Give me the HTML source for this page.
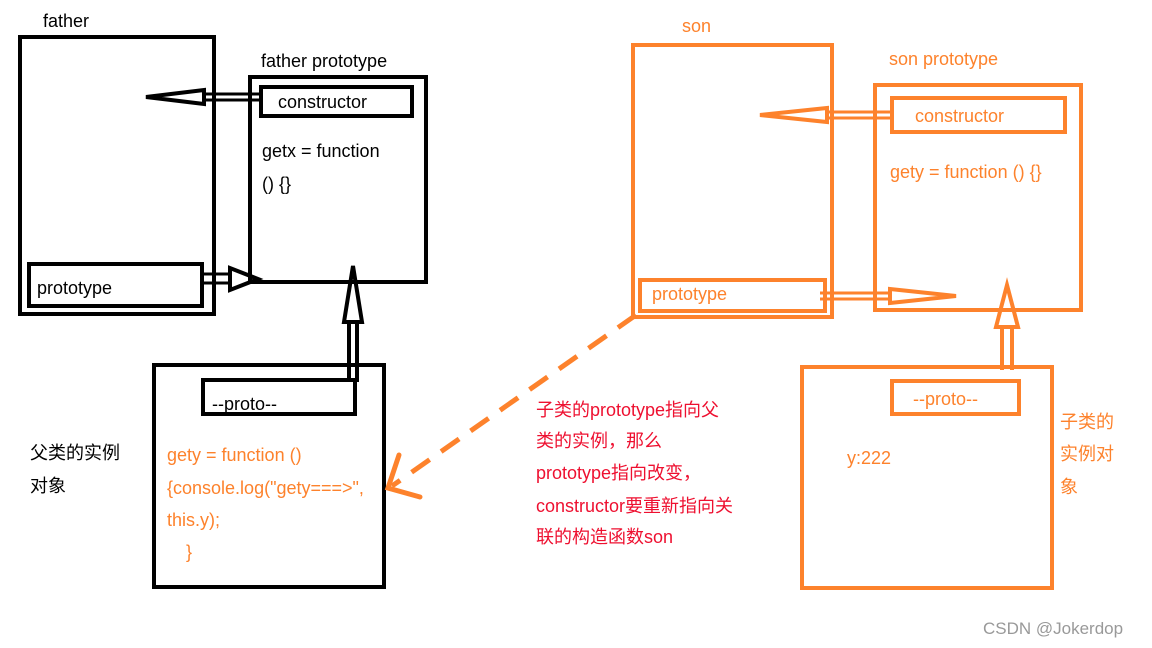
<!DOCTYPE html>
<html><head><meta charset="utf-8"><style>
html,body{margin:0;padding:0;background:#fff;}
svg{display:block;}
text{font-family:"Liberation Sans","Noto Sans CJK SC",sans-serif;font-size:18px;}
.o{fill:#fd822c;}
.r{fill:#ee1030;}
</style></head><body>
<svg width="1152" height="648" viewBox="0 0 1152 648" xmlns="http://www.w3.org/2000/svg">
<g fill="none" stroke="#000" stroke-width="4" stroke-linejoin="miter">
  <rect x="20" y="37" width="194" height="277"/>
  <rect x="29" y="264" width="173" height="42"/>
  <rect x="250" y="77" width="176" height="205"/>
  <rect x="261" y="87" width="151" height="29"/>
  <rect x="154" y="365" width="230" height="222"/>
  <rect x="203" y="380" width="152" height="34"/>
  <!-- constructor arrow -->
  <line x1="204" y1="94" x2="261" y2="94" stroke-width="3"/>
  <line x1="204" y1="100" x2="261" y2="100" stroke-width="3"/>
  <polygon points="146,97 204,90 204,104" stroke-width="4"/>
  <!-- prototype arrow -->
  <line x1="203" y1="274" x2="232" y2="274" stroke-width="3"/>
  <line x1="203" y1="283" x2="232" y2="283" stroke-width="3"/>
  <polygon points="258,279 230,268 230,290" stroke-width="4"/>
  <!-- proto up arrow -->
  <line x1="349" y1="322" x2="349" y2="382" stroke-width="4"/>
  <line x1="357" y1="322" x2="357" y2="382" stroke-width="4"/>
  <polygon points="353,266 344,322 362,322" stroke-width="4"/>
</g>
<g fill="none" stroke="#fd822c" stroke-width="4">
  <rect x="633" y="45" width="199" height="272"/>
  <rect x="640" y="280" width="185" height="31"/>
  <rect x="875" y="85" width="206" height="225"/>
  <rect x="892" y="98" width="173" height="34"/>
  <rect x="802" y="367" width="250" height="221"/>
  <rect x="892" y="381" width="127" height="33"/>
  <!-- son constructor arrow -->
  <line x1="827" y1="112" x2="892" y2="112" stroke-width="3"/>
  <line x1="827" y1="118" x2="892" y2="118" stroke-width="3"/>
  <polygon points="760,115 827,108 827,122" stroke-width="4"/>
  <!-- son prototype arrow -->
  <line x1="820" y1="293" x2="890" y2="293" stroke-width="3"/>
  <line x1="820" y1="299" x2="890" y2="299" stroke-width="3"/>
  <polygon points="956,296 890,289 890,303" stroke-width="4"/>
  <!-- child proto up arrow -->
  <line x1="1002" y1="327" x2="1002" y2="370" stroke-width="4"/>
  <line x1="1012" y1="327" x2="1012" y2="370" stroke-width="4"/>
  <polygon points="1007,285 996,327 1018,327" stroke-width="4"/>
  <!-- dashed -->
  <line x1="636" y1="315" x2="392" y2="486" stroke-width="5" stroke-dasharray="22,14"/>
  <polyline points="399,455 388,488 420,497" stroke-width="5" stroke-linecap="round"/>
</g>
<text x="43" y="27">father</text>
<text x="261" y="67">father  prototype</text>
<text x="278" y="108">constructor</text>
<text x="262" y="157">getx = function</text>
<text x="262" y="190">() {}</text>
<text x="37" y="294">prototype</text>
<text x="212" y="410">--proto--</text>
<text class="o" x="167" y="461">gety = function ()</text>
<text class="o" x="167" y="494">{console.log("gety===>",</text>
<text class="o" x="167" y="526">this.y);</text>
<text class="o" x="186" y="558">}</text>
<text x="30" y="459">父类的实例</text>
<text x="30" y="492">对象</text>
<text class="o" x="682" y="32">son</text>
<text class="o" x="889" y="65">son  prototype</text>
<text class="o" x="915" y="122">constructor</text>
<text class="o" x="890" y="178">gety = function () {}</text>
<text class="o" x="652" y="300">prototype</text>
<text class="o" x="913" y="405">--proto--</text>
<text class="o" x="847" y="464">y:222</text>
<text class="o" x="1060" y="428">子类的</text>
<text class="o" x="1060" y="460">实例对</text>
<text class="o" x="1060" y="493">象</text>
<text class="r" x="536" y="416">子类的prototype指向父</text>
<text class="r" x="536" y="447">类的实例，那么</text>
<text class="r" x="536" y="479">prototype指向改变，</text>
<text class="r" x="536" y="512">constructor要重新指向关</text>
<text class="r" x="536" y="543">联的构造函数son</text>
<text x="983" y="634" style="fill:#999;font-size:17px">CSDN @Jokerdop</text>
</svg>
</body></html>
